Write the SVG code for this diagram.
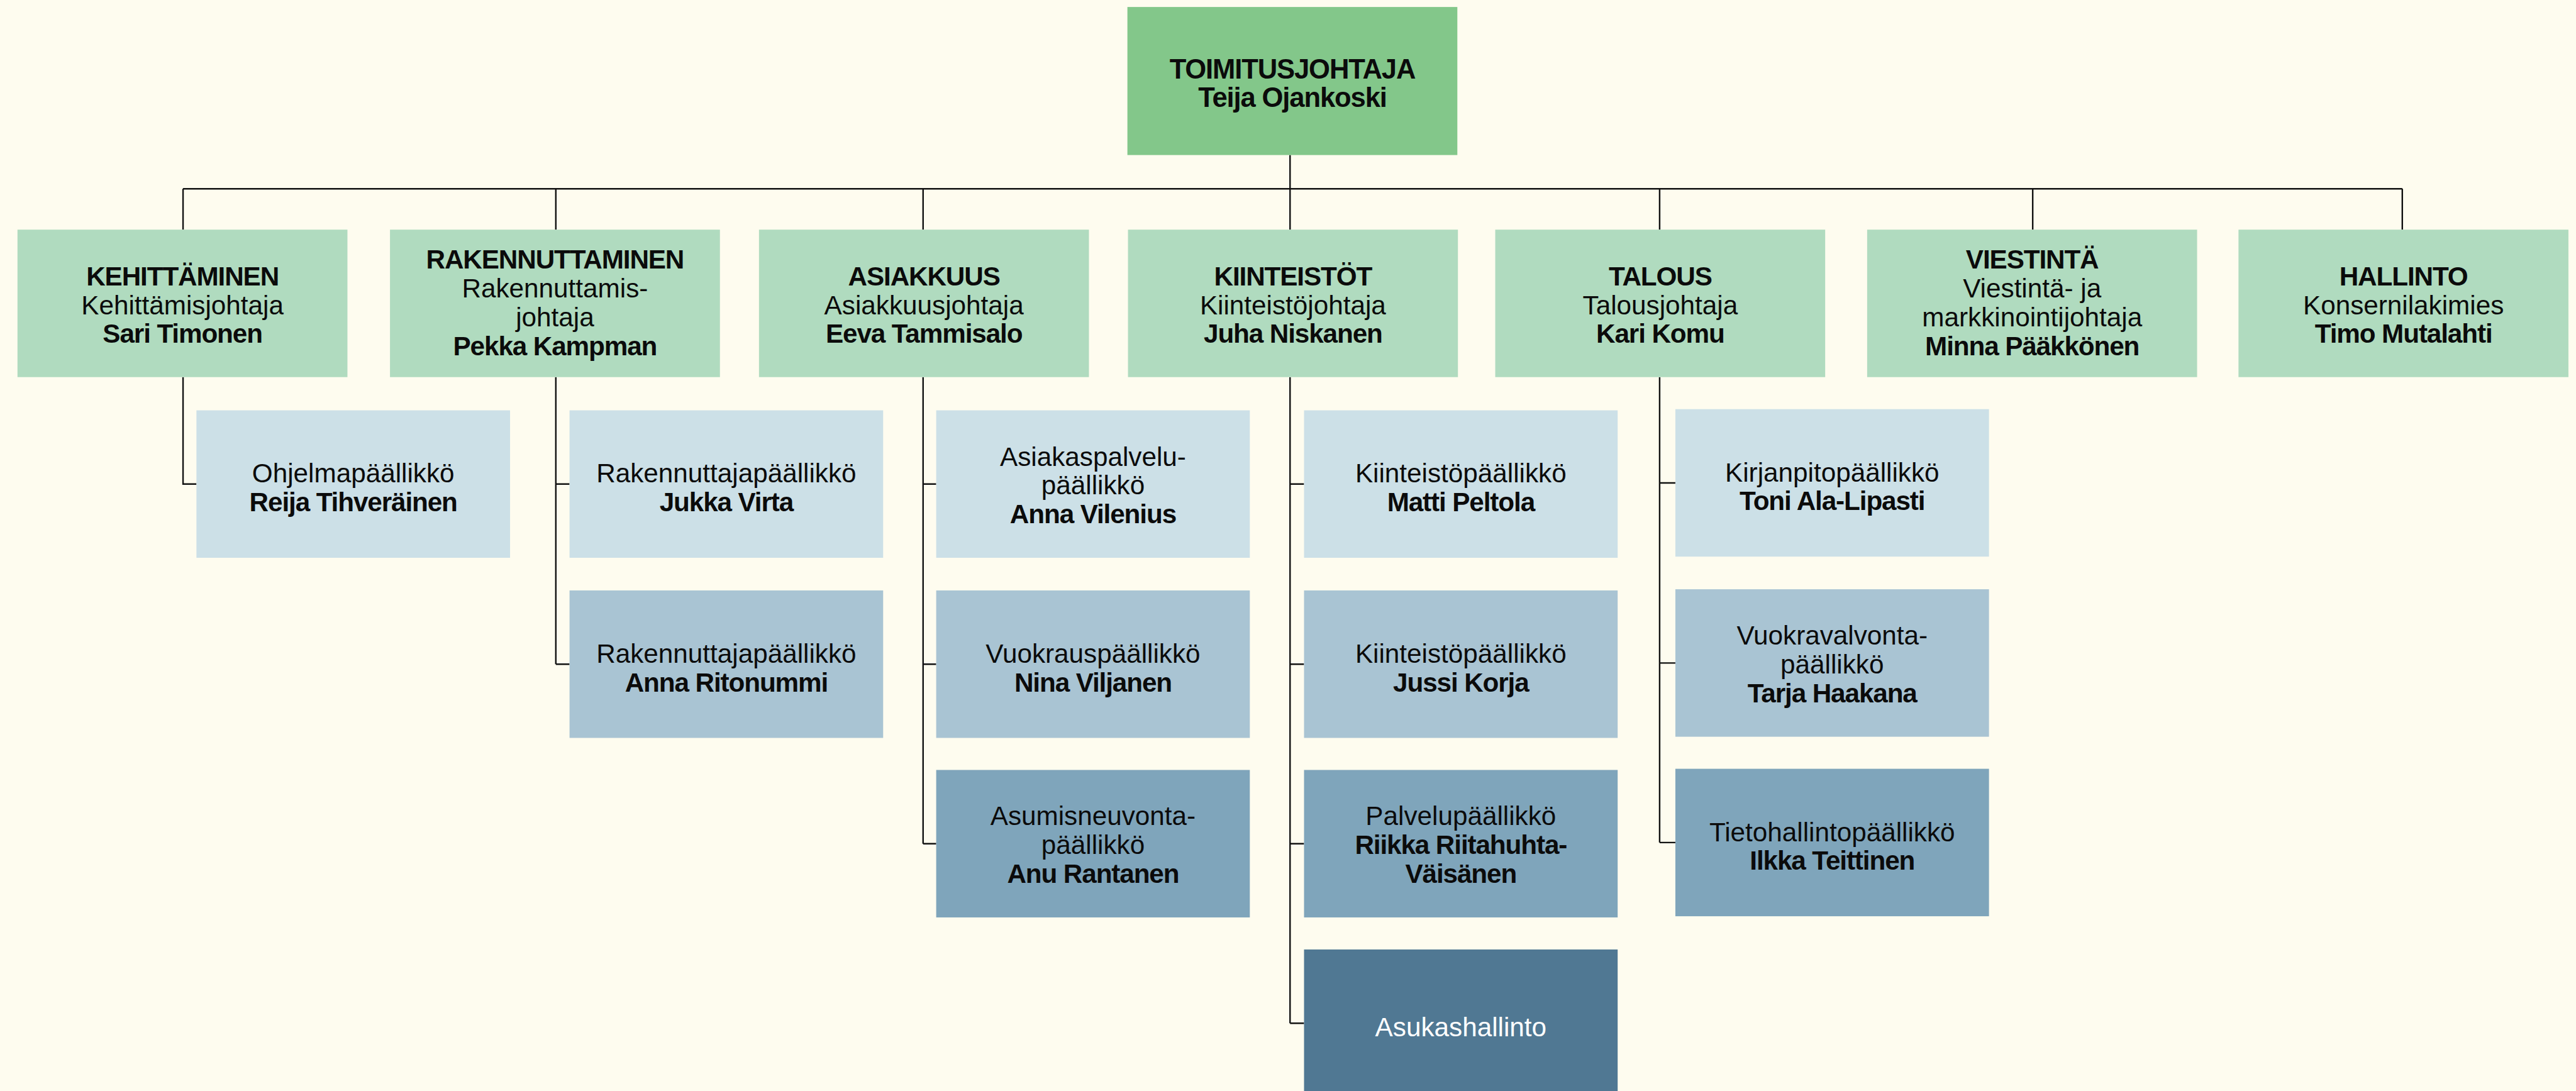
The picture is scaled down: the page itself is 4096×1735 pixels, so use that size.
<svg xmlns="http://www.w3.org/2000/svg" width="4096" height="1735" viewBox="0 0 4096 1735">
<style>
.t{font-family:'Liberation Sans',Arial,sans-serif;font-size:45.6px;text-anchor:middle;fill:#0b0b0b}
.b{font-weight:700;letter-spacing:-1.2px}
.w{fill:#ffffff}
.ln{stroke:#111111;stroke-width:2.6;fill:none}
.top{fill:#83c78a}
.l1{fill:#b0dbbf}
.r0{fill:#cce0e7}
.r1{fill:#a9c4d3}
.r2{fill:#7fa5bb}
.r3{fill:#507893}
</style>
<rect width="4096" height="1735" fill="#fefcef"/>
<g transform="scale(0.92691)">
<g id="connectors">
<path class="ln" d="M2213 266V324M314 324H4121"/>
<path class="ln" d="M314 324V394M953.5 324V394M1583.5 324V394M2213 324V394M2847 324V394M3487 324V394M4121 324V394"/>
<path class="ln" d="M314 647V830.5H337"/>
<path class="ln" d="M953.5 647V1139.5M953.5 830.5H977M953.5 1139.5H977"/>
<path class="ln" d="M1583.5 647V1447.5M1583.5 830.5H1606M1583.5 1139.5H1606M1583.5 1447.5H1606"/>
<path class="ln" d="M2213 647V1755.5M2213 830.5H2237M2213 1139.5H2237M2213 1447.5H2237M2213 1755.5H2237"/>
<path class="ln" d="M2847 647V1445.5M2847 828.5H2874M2847 1137.5H2874M2847 1445.5H2874"/>
</g>
<g id="toimitusjohtaja">
<rect class="top" x="1934" y="12" width="566" height="254"/>
<text class="t b" x="2217" y="135" style="font-size:47px">TOIMITUSJOHTAJA<tspan x="2217" dy="48">Teija Ojankoski</tspan></text>
</g>
<g id="kehittaminen">
<rect class="l1" x="30" y="394" width="566" height="253"/>
<text class="t" x="313" y="489.5"><tspan class="b">KEHITTÄMINEN</tspan><tspan x="313" dy="49.5">Kehittämisjohtaja</tspan><tspan class="b" x="313" dy="49.5">Sari Timonen</tspan></text>
</g>
<g id="rakennuttaminen">
<rect class="l1" x="669" y="394" width="566" height="253"/>
<text class="t" x="952" y="461"><tspan class="b">RAKENNUTTAMINEN</tspan><tspan x="952" dy="49.5">Rakennuttamis-</tspan><tspan x="952" dy="49.5">johtaja</tspan><tspan class="b" x="952" dy="49.5">Pekka Kampman</tspan></text>
</g>
<g id="asiakkuus">
<rect class="l1" x="1302" y="394" width="566" height="253"/>
<text class="t" x="1585" y="489.5"><tspan class="b">ASIAKKUUS</tspan><tspan x="1585" dy="49.5">Asiakkuusjohtaja</tspan><tspan class="b" x="1585" dy="49.5">Eeva Tammisalo</tspan></text>
</g>
<g id="kiinteistot">
<rect class="l1" x="1935" y="394" width="566" height="253"/>
<text class="t" x="2218" y="489.5"><tspan class="b">KIINTEISTÖT</tspan><tspan x="2218" dy="49.5">Kiinteistöjohtaja</tspan><tspan class="b" x="2218" dy="49.5">Juha Niskanen</tspan></text>
</g>
<g id="talous">
<rect class="l1" x="2565" y="394" width="566" height="253"/>
<text class="t" x="2848" y="489.5"><tspan class="b">TALOUS</tspan><tspan x="2848" dy="49.5">Talousjohtaja</tspan><tspan class="b" x="2848" dy="49.5">Kari Komu</tspan></text>
</g>
<g id="viestinta">
<rect class="l1" x="3203" y="394" width="566" height="253"/>
<text class="t" x="3486" y="461"><tspan class="b">VIESTINTÄ</tspan><tspan x="3486" dy="49.5">Viestintä- ja</tspan><tspan x="3486" dy="49.5">markkinointijohtaja</tspan><tspan class="b" x="3486" dy="49.5">Minna Pääkkönen</tspan></text>
</g>
<g id="hallinto">
<rect class="l1" x="3840" y="394" width="566" height="253"/>
<text class="t" x="4123" y="489.5"><tspan class="b">HALLINTO</tspan><tspan x="4123" dy="49.5">Konsernilakimies</tspan><tspan class="b" x="4123" dy="49.5">Timo Mutalahti</tspan></text>
</g>
<g id="ohjelmapaallikko">
<rect class="r0" x="337" y="704" width="538" height="253"/>
<text class="t" x="606" y="828">Ohjelmapäällikkö<tspan class="b" x="606" dy="49.5">Reija Tihveräinen</tspan></text>
</g>
<g id="rakennuttajapaallikko-1">
<rect class="r0" x="977" y="704" width="538" height="253"/>
<text class="t" x="1246" y="828">Rakennuttajapäällikkö<tspan class="b" x="1246" dy="49.5">Jukka Virta</tspan></text>
</g>
<g id="rakennuttajapaallikko-2">
<rect class="r1" x="977" y="1013" width="538" height="253"/>
<text class="t" x="1246" y="1137">Rakennuttajapäällikkö<tspan class="b" x="1246" dy="49.5">Anna Ritonummi</tspan></text>
</g>
<g id="asiakaspalvelupaallikko">
<rect class="r0" x="1606" y="704" width="538" height="253"/>
<text class="t" x="1875" y="799">Asiakaspalvelu-<tspan x="1875" dy="49.5">päällikkö</tspan><tspan class="b" x="1875" dy="49.5">Anna Vilenius</tspan></text>
</g>
<g id="vuokrauspaallikko">
<rect class="r1" x="1606" y="1013" width="538" height="253"/>
<text class="t" x="1875" y="1137">Vuokrauspäällikkö<tspan class="b" x="1875" dy="49.5">Nina Viljanen</tspan></text>
</g>
<g id="asumisneuvontapaallikko">
<rect class="r2" x="1606" y="1321" width="538" height="253"/>
<text class="t" x="1875" y="1416">Asumisneuvonta-<tspan x="1875" dy="49.5">päällikkö</tspan><tspan class="b" x="1875" dy="49.5">Anu Rantanen</tspan></text>
</g>
<g id="kiinteistopaallikko-1">
<rect class="r0" x="2237" y="704" width="538" height="253"/>
<text class="t" x="2506" y="828">Kiinteistöpäällikkö<tspan class="b" x="2506" dy="49.5">Matti Peltola</tspan></text>
</g>
<g id="kiinteistopaallikko-2">
<rect class="r1" x="2237" y="1013" width="538" height="253"/>
<text class="t" x="2506" y="1137">Kiinteistöpäällikkö<tspan class="b" x="2506" dy="49.5">Jussi Korja</tspan></text>
</g>
<g id="palvelupaallikko">
<rect class="r2" x="2237" y="1321" width="538" height="253"/>
<text class="t" x="2506" y="1416">Palvelupäällikkö<tspan class="b" x="2506" dy="49.5">Riikka Riitahuhta-</tspan><tspan class="b" x="2506" dy="49.5">Väisänen</tspan></text>
</g>
<g id="asukashallinto">
<rect class="r3" x="2237" y="1629" width="538" height="253"/>
<text class="t w" x="2506" y="1777.5">Asukashallinto</text>
</g>
<g id="kirjanpitopaallikko">
<rect class="r0" x="2874" y="702" width="538" height="253"/>
<text class="t" x="3143" y="826">Kirjanpitopäällikkö<tspan class="b" x="3143" dy="49.5">Toni Ala-Lipasti</tspan></text>
</g>
<g id="vuokravalvontapaallikko">
<rect class="r1" x="2874" y="1011" width="538" height="253"/>
<text class="t" x="3143" y="1106">Vuokravalvonta-<tspan x="3143" dy="49.5">päällikkö</tspan><tspan class="b" x="3143" dy="49.5">Tarja Haakana</tspan></text>
</g>
<g id="tietohallintopaallikko">
<rect class="r2" x="2874" y="1319" width="538" height="253"/>
<text class="t" x="3143" y="1443">Tietohallintopäällikkö<tspan class="b" x="3143" dy="49.5">Ilkka Teittinen</tspan></text>
</g>
</g>
</svg>
